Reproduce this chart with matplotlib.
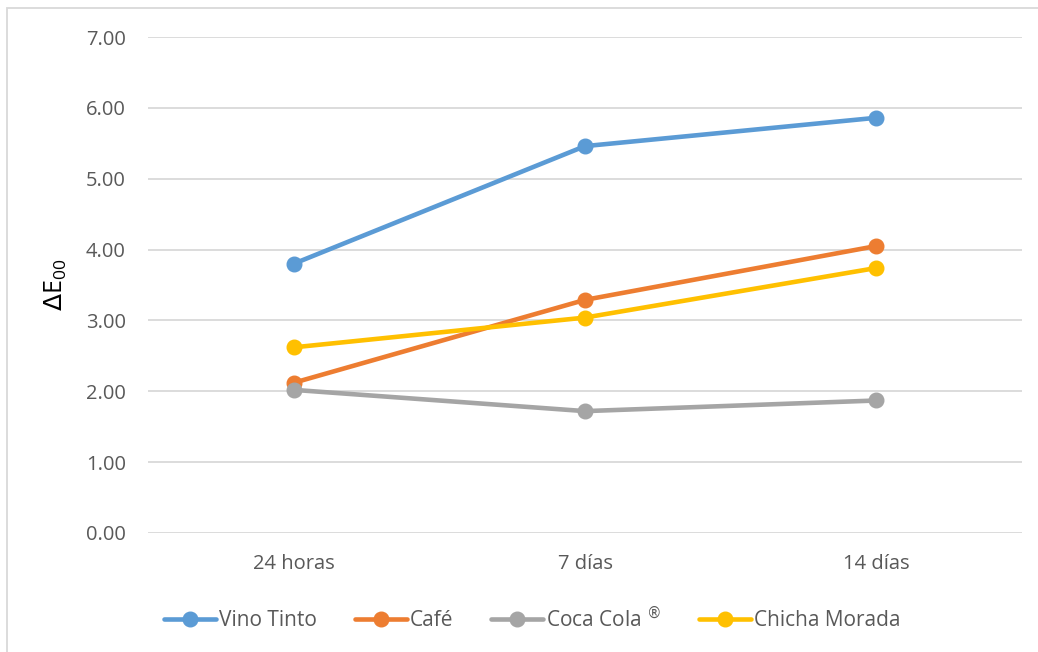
import matplotlib
matplotlib.use('Agg')
import matplotlib.pyplot as plt
from matplotlib.patches import Rectangle

# Colour difference per beverage after each immersion period
periods = ['24 horas', '7 días', '14 días']
vino_tinto = [3.80, 5.46, 5.86]
cafe = [2.12, 3.29, 4.05]
coca_cola = [2.02, 1.72, 1.87]
chicha_morada = [2.62, 3.04, 3.74]

series = [
    ('Vino Tinto', vino_tinto, '#5B9BD5'),
    ('Café', cafe, '#ED7D31'),
    (r'Coca Cola $^{\circledR}$', coca_cola, '#A5A5A5'),
    ('Chicha Morada', chicha_morada, '#FFC000'),
]

plt.rcParams['font.family'] = ['Open Sans', 'DejaVu Sans']
text_gray = '#595959'

fig = plt.figure(figsize=(10.38, 6.52), dpi=100)
ax = fig.add_axes([148 / 1038, 1 - 533 / 652, (1022 - 148) / 1038, (533 - 37) / 652])

x = list(range(len(periods)))
for name, values, color in series:
    ax.plot(x, values, color=color, linewidth=3.3, marker='o', markersize=10.5,
            solid_capstyle='round', label=name)

ax.set_xlim(-0.5, len(periods) - 0.5)
ax.set_ylim(0, 7)
ax.set_yticks(range(0, 8))
ax.set_yticklabels([f'{v:.2f}' for v in range(0, 8)])
ax.set_xticks(x)
ax.set_xticklabels(periods)
ax.tick_params(axis='both', length=0, labelsize=14.5, labelcolor=text_gray)
ax.tick_params(axis='y', pad=16)
ax.tick_params(axis='x', pad=15)
ax.grid(axis='y', color='#D9D9D9', linewidth=1.3)
ax.set_axisbelow(True)
for spine in ax.spines.values():
    spine.set_visible(False)

ax.set_ylabel(r'$\Delta\mathregular{E_{00}}$', fontsize=18, color='black', labelpad=12)

ax.legend(loc='center', bbox_to_anchor=(0.44, -0.172), ncol=4, frameon=False,
          fontsize=15, labelcolor=text_gray, handlelength=2.5, handletextpad=0.15,
          columnspacing=1.8)

# outer chart frame
fig.patches.append(Rectangle((7 / 1038, -0.1), 1.2, 1 - 8 / 652 + 0.1,
                             transform=fig.transFigure, fill=False,
                             edgecolor='#D9D9D9', linewidth=1.3))

fig.savefig('out.png', dpi=100)
